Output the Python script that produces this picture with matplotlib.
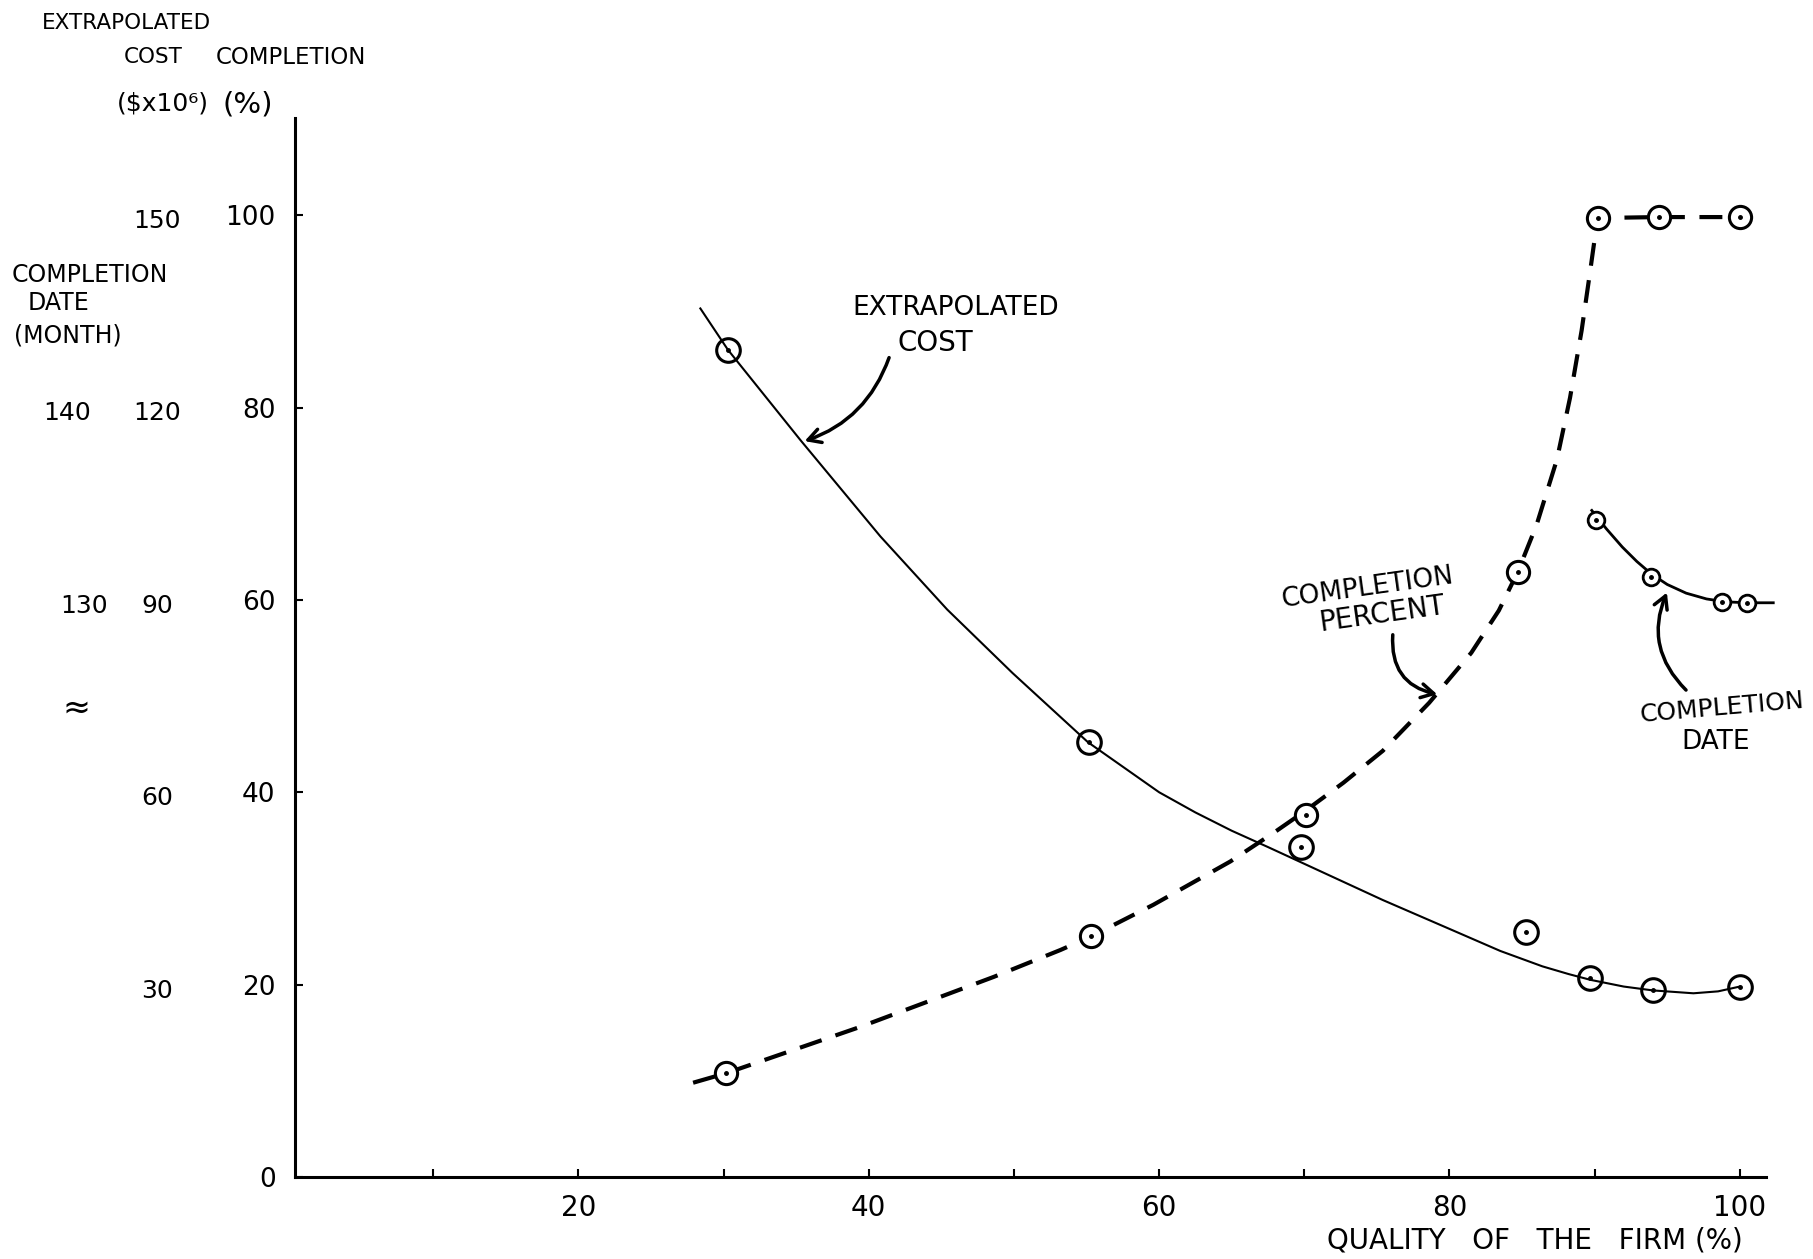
import matplotlib.pyplot as plt

plt.rcParams['font.family'] = ['DejaVu Sans']

W, H = 1813, 1259

# quality of the firm (%) vs. values on the completion (%) scale
cost_x = [28.4, 30.3, 35.3, 40.8, 45.4, 49.9, 55.1, 60.0, 62.5, 65.0, 67.5,
          69.8, 75.4, 80.6, 83.5, 86.4, 88.2, 89.7, 92.0, 94.0, 96.8, 98.5,
          100.0]
cost_y = [90.3, 86.0, 76.6, 66.6, 59.0, 52.4, 45.2, 40.0, 37.9, 36.0, 34.3,
          32.7, 28.8, 25.4, 23.5, 21.9, 21.1, 20.5, 19.8, 19.4, 19.1, 19.3,
          19.8]
cost_pts_x = [30.3, 55.2, 69.8, 85.3, 89.7, 94.0, 100.0]
cost_pts_y = [86.0, 45.2, 34.3, 25.5, 20.7, 19.4, 19.8]

pct_x = [27.9, 30.2, 34.8, 39.4, 44.0, 48.6, 53.2, 55.3, 59.6, 64.9, 68.0,
         70.1, 72.7, 75.4, 78.6, 81.5, 83.4, 84.7, 86.0, 87.4, 88.3, 89.1,
         89.7, 90.2, 94.4, 100.0]
pct_y = [9.8, 10.8, 13.2, 15.6, 18.2, 20.8, 23.6, 25.0, 28.3, 32.8, 35.9,
         38.1, 41.0, 44.3, 49.3, 54.5, 58.9, 62.9, 67.8, 74.6, 81.0, 88.0,
         94.3, 99.7, 99.8, 99.8]
pct_pts_x = [30.2, 55.3, 70.1, 84.7, 90.2, 94.4, 100.0]
pct_pts_y = [10.8, 25.1, 37.6, 62.9, 99.7, 99.8, 99.8]

date_x = [89.8, 90.8, 91.9, 92.9, 93.9, 95.0, 96.3, 97.7, 99.0, 100.5, 102.3]
date_y = [69.3, 67.4, 65.5, 64.0, 62.7, 61.6, 60.7, 60.1, 59.8, 59.7, 59.7]
date_pts_x = [90.1, 93.9, 98.8, 100.5]
date_pts_y = [68.3, 62.4, 59.8, 59.7]

x_ticks = [10, 20, 30, 40, 50, 60, 70, 80, 90, 100]
x_labels = ['', '20', '', '40', '', '60', '', '80', '', '100']
y_ticks = [0, 20, 40, 60, 80, 100]
cost_labels = ['30', '60', '90', '120', '150']      # at 20..100 %
date_ticks = [60, 80]
date_labels = ['130', '140']


def fp(x, y):
    """figure pixel (from top-left) -> figure fraction"""
    return x / W, 1 - y / H


fig = plt.figure(figsize=(W / 100, H / 100), dpi=100)
ax = fig.add_axes([295 / W, 82 / H, 1471 / W, 1059 / H])
ax.set_xlim(0.48, 101.8)
ax.set_ylim(0, 110.1)

for s in ['top', 'right']:
    ax.spines[s].set_visible(False)
for s in ['left', 'bottom']:
    ax.spines[s].set_linewidth(2.2)

ax.set_xticks(x_ticks, x_labels, fontsize=20)
ax.set_yticks(y_ticks, [str(v) for v in y_ticks], fontsize=19)
ax.tick_params(direction='in', length=6, width=1.5, pad=12)
ax.tick_params(axis='y', pad=14)

# curves
ax.plot(cost_x, cost_y, color='black', lw=1.5)
ax.plot(pct_x, pct_y, color='black', lw=3, linestyle=(0, (5.5, 3.5)),
        dash_capstyle='butt')
ax.plot(date_x, date_y, color='black', lw=2, clip_on=False)

# circled points
ax.plot(cost_pts_x, cost_pts_y, 'o', ms=17, mfc='none', mec='black', mew=2.2)
ax.plot(pct_pts_x, pct_pts_y, 'o', ms=16, mfc='white', mec='black', mew=2.2)
ax.plot(date_pts_x, date_pts_y, 'o', ms=12, mfc='white', mec='black', mew=2)
for xs, ys in [(cost_pts_x, cost_pts_y), (pct_pts_x, pct_pts_y),
               (date_pts_x, date_pts_y)]:
    ax.plot(xs, ys, '.', ms=5, color='black')

# extra scales on the left
for v, lab in zip(y_ticks[1:], cost_labels):
    y = 1177 - v * 9.62 + 6
    fig.text(*fp(157, y), lab, fontsize=18, ha='center', va='center')
for v, lab, xp in zip(date_ticks, date_labels, [84, 67]):
    y = 1177 - v * 9.62 + 6
    fig.text(*fp(xp, y), lab, fontsize=18, ha='center', va='center')
fig.text(*fp(76, 708), '≈', fontsize=24, ha='center', va='center')

# headers
fig.text(*fp(42, 23), 'EXTRAPOLATED', fontsize=15.5, ha='left', va='center')
fig.text(*fp(153, 57), 'COST', fontsize=15.5, ha='center', va='center')
fig.text(*fp(291, 57), 'COMPLETION', fontsize=16.5, ha='center', va='center')
fig.text(*fp(163, 104), '($x10⁶)', fontsize=18, ha='center', va='center')
fig.text(*fp(248, 104), '(%)', fontsize=21, ha='center', va='center')
fig.text(*fp(12, 275), 'COMPLETION', fontsize=17, ha='left', va='center')
fig.text(*fp(28, 303), 'DATE', fontsize=17, ha='left', va='center')
fig.text(*fp(14, 336), '(MONTH)', fontsize=17, ha='left', va='center')

ax.set_xlabel('QUALITY   OF   THE   FIRM (%)', fontsize=20, va='center')
ax.xaxis.set_label_coords(0.843, -0.06)

# annotations
arrow = dict(arrowstyle='->,head_length=0.9,head_width=0.5', lw=2.5,
             color='black')
fig.text(*fp(956, 308), 'EXTRAPOLATED', fontsize=19, ha='center', va='center')
fig.text(*fp(935, 343), 'COST', fontsize=20, ha='center', va='center')
ax.annotate('', xy=fp(802, 442), xytext=fp(890, 355),
            xycoords='figure fraction', textcoords='figure fraction',
            arrowprops=dict(arrow, connectionstyle='arc3,rad=-0.25'))

fig.text(*fp(1368, 588), 'COMPLETION', fontsize=19, ha='center', va='center',
         rotation=8)
fig.text(*fp(1382, 614), 'PERCENT', fontsize=20, ha='center', va='center',
         rotation=8)
ax.annotate('', xy=fp(1440, 695), xytext=fp(1393, 632),
            xycoords='figure fraction', textcoords='figure fraction',
            arrowprops=dict(arrow, connectionstyle='arc3,rad=0.45'))

fig.text(*fp(1722, 708), 'COMPLETION', fontsize=18, ha='center', va='center',
         rotation=5)
fig.text(*fp(1716, 742), 'DATE', fontsize=19, ha='center', va='center')
ax.annotate('', xy=fp(1668, 590), xytext=fp(1688, 692),
            xycoords='figure fraction', textcoords='figure fraction',
            arrowprops=dict(arrow, connectionstyle='arc3,rad=-0.35'))

fig.savefig('out.png', dpi=100)
